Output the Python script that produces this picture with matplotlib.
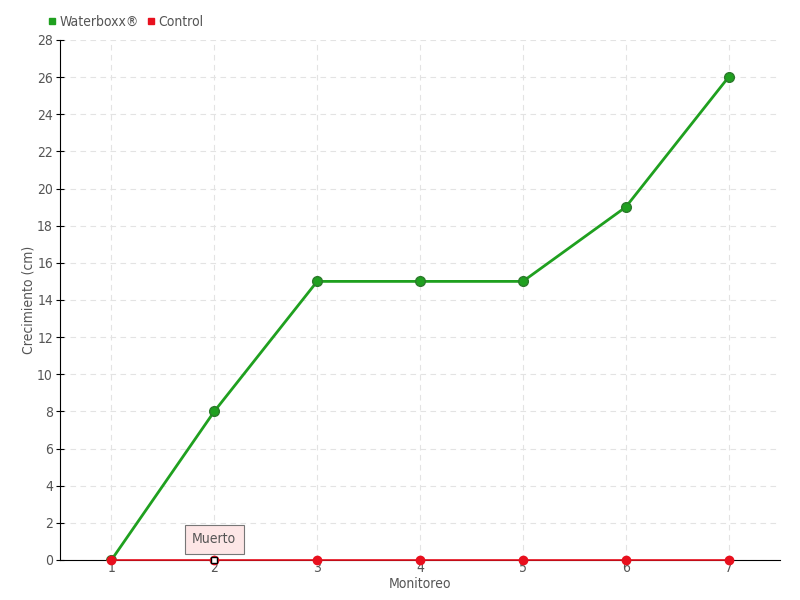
import matplotlib.pyplot as plt
from matplotlib.lines import Line2D

monitoreo = [1, 2, 3, 4, 5, 6, 7]
waterboxx = [0, 8, 15, 15, 15, 19, 26]
control = [0, 0, 0, 0, 0, 0, 0]
y_ticks = list(range(0, 30, 2))

green = "#1fa01f"
red = "#e8101e"
text_color = "#555555"

plt.rcParams["font.family"] = ["DejaVu Sans"]
plt.rcParams["font.stretch"] = "condensed"

fig = plt.figure(figsize=(8, 6), dpi=100)
ax = fig.add_axes([0.075, 0.0667, 0.9, 0.8667])

ax.plot(monitoreo, waterboxx, color=green, linewidth=2, marker="o",
        markersize=7, markerfacecolor=green, markeredgecolor="#2b7a2b",
        zorder=3)
ax.plot(monitoreo, control, color=red, linewidth=1.2, marker="o",
        markersize=6, markerfacecolor=red, markeredgecolor=red, zorder=4,
        clip_on=False)
# dead plant at monitoring 2
ax.plot(monitoreo[1], control[1], marker="s", markersize=4.5,
        markerfacecolor="white", markeredgecolor="black", zorder=5,
        clip_on=False)
ax.annotate("Muerto", xy=(monitoreo[1], control[1]), xytext=(0, 15),
            textcoords="offset points", ha="center", va="center",
            fontsize=10, color=text_color,
            bbox=dict(boxstyle="square,pad=0.55", facecolor="#fde6e6",
                      edgecolor="#777777", linewidth=0.8),
            zorder=6)

ax.set_xlim(0.5, 7.5)
ax.set_ylim(0, 28)
ax.set_xticks(monitoreo)
ax.set_yticks(y_ticks)
ax.tick_params(axis="x", length=0, labelsize=10, labelcolor=text_color, pad=1)
ax.tick_params(axis="y", direction="inout", length=6, labelsize=10,
               labelcolor=text_color, pad=2)
ax.spines["top"].set_visible(False)
ax.spines["right"].set_visible(False)
ax.grid(True, linestyle=(0, (5, 4)), linewidth=0.8, color="#e3e3e3")
ax.set_axisbelow(True)

ax.set_xlabel("Monitoreo", fontsize=10, color=text_color, labelpad=1)
ax.set_ylabel("Crecimiento (cm)", fontsize=10, color=text_color, labelpad=1)

handles = [
    Line2D([], [], linestyle="none", marker="s", markersize=4, color=green),
    Line2D([], [], linestyle="none", marker="s", markersize=4, color=red),
]
fig.legend(handles, ["Waterboxx\u00ae", "Control"], loc="center left",
           bbox_to_anchor=(0.06, 0.963), ncol=2, frameon=False,
           fontsize=10, labelcolor=text_color, handlelength=0.6,
           handletextpad=0.2, columnspacing=0.6, borderaxespad=0,
           borderpad=0)

fig.savefig("out.png", dpi=100)
